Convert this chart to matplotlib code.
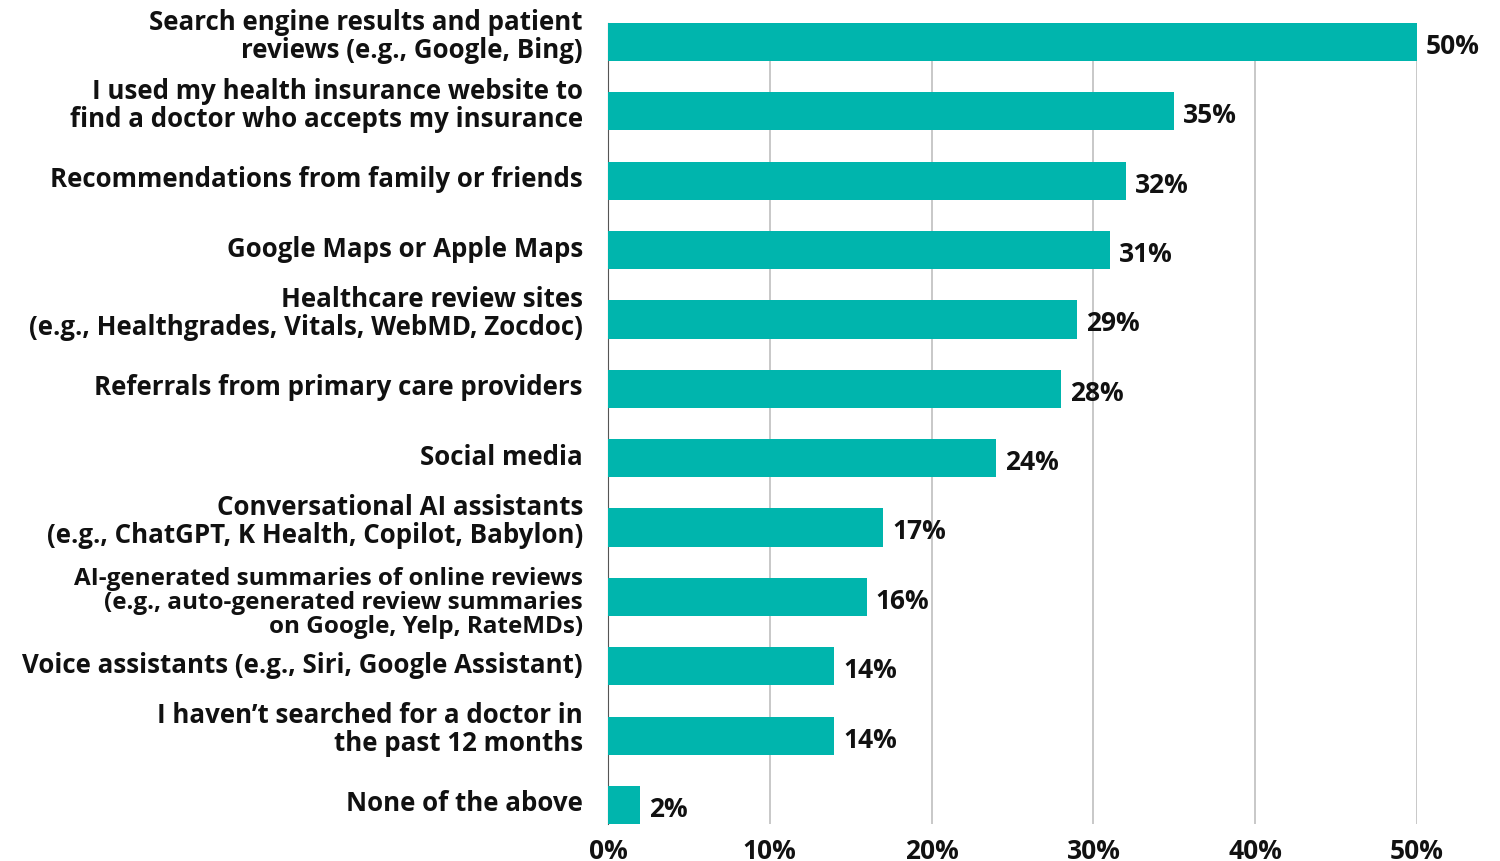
import matplotlib
matplotlib.use("Agg")
import matplotlib.pyplot as plt
import matplotlib.transforms as mtransforms
from matplotlib.ticker import FuncFormatter

categories = [
    "Search engine results and patient\nreviews (e.g., Google, Bing)",
    "I used my health insurance website to\nfind a doctor who accepts my insurance",
    "Recommendations from family or friends",
    "Google Maps or Apple Maps",
    "Healthcare review sites\n(e.g., Healthgrades, Vitals, WebMD, Zocdoc)",
    "Referrals from primary care providers",
    "Social media",
    "Conversational AI assistants\n(e.g., ChatGPT, K Health, Copilot, Babylon)",
    "AI-generated summaries of online reviews\n(e.g., auto-generated review summaries\non Google, Yelp, RateMDs)",
    "Voice assistants (e.g., Siri, Google Assistant)",
    "I haven\u2019t searched for a doctor in\nthe past 12 months",
    "None of the above",
]
values = [50, 35, 32, 31, 29, 28, 24, 17, 16, 14, 14, 2]
xticks = [0, 10, 20, 30, 40, 50]

BAR = "#00B5AD"
FONT = "Open Sans"

plt.rcParams["font.family"] = [FONT, "DejaVu Sans"]
plt.rcParams["font.weight"] = "bold"

fig = plt.figure(figsize=(15, 8.62), dpi=100)
ax = fig.add_axes([0.4053, 0.0429, 0.5394, 0.9293])

pos = list(range(len(categories)))
ax.barh(pos, values, height=0.55, color=BAR, zorder=3)
ax.set_ylim(len(categories) - 1 + 0.275, -0.275)
ax.set_xlim(0, 50)

for y, v in zip(pos, values):
    ax.text(v + 0.55, y + 0.05, f"{v}%", va="center", ha="left",
            fontsize=19, fontweight="bold", color="#111111")

# category labels, right-aligned left of the axis; (size, linespacing, lift px)
styles = {0: (18.6, 1.0, 2), 1: (18.6, 1.05, 7), 2: (17.5, 1.0, -5)}
ax.set_yticks(pos)
ax.set_yticklabels([])
ax.tick_params(axis="y", length=0)
for y, cat in zip(pos, categories):
    size, spacing, lift = styles[cat.count("\n")]
    tf = ax.get_yaxis_transform() + mtransforms.ScaledTranslation(
        -25 / 100, lift / 100, fig.dpi_scale_trans)
    ax.text(0, y, cat, transform=tf, ha="right", va="center",
            multialignment="right", fontsize=size, linespacing=spacing,
            fontweight="bold", color="#111111")

ax.set_xticks(xticks)
ax.xaxis.set_major_formatter(FuncFormatter(lambda x, _: f"{int(x)}%"))
ax.tick_params(axis="x", length=0, pad=9, labelsize=19, labelcolor="#111111")
for lab in ax.get_xticklabels():
    lab.set_fontweight("bold")

ax.grid(axis="x", color="#c4c4c4", linewidth=1.3, zorder=0)
for s in ["top", "right", "bottom"]:
    ax.spines[s].set_visible(False)
ax.spines["left"].set_color("#555555")
ax.spines["left"].set_linewidth(0.8)

fig.savefig("out.png", dpi=100)
